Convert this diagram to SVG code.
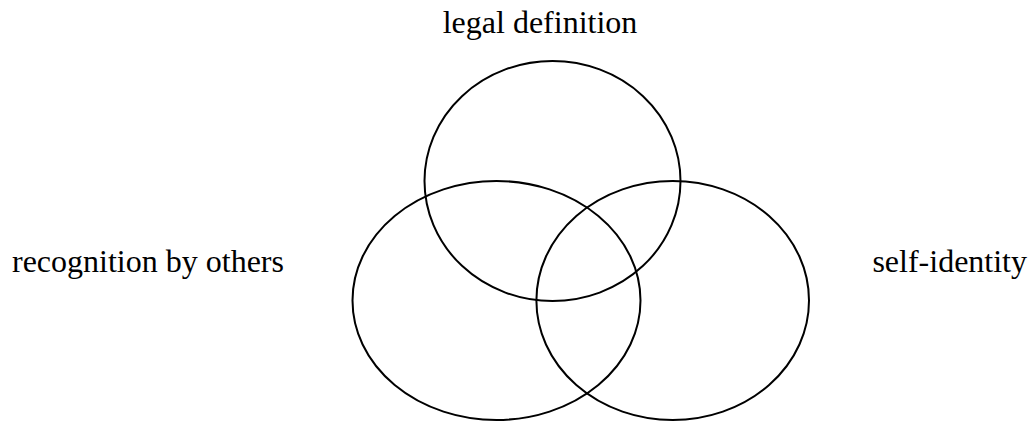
<svg xmlns="http://www.w3.org/2000/svg" width="1035" height="421" viewBox="0 0 1035 421">
<style>
.c{fill:none;stroke:#000;stroke-width:2}
.t{font-family:"Liberation Serif","Times New Roman",serif;font-size:32px;fill:#000}
</style>
<rect width="1035" height="421" fill="#fff"/>
<g id="legal">
<ellipse class="c" cx="552.5" cy="181" rx="128" ry="120"/>
<text class="t" x="540" y="33" text-anchor="middle">legal definition</text>
</g>
<g id="recognition">
<ellipse class="c" cx="496.5" cy="300.5" rx="144" ry="119.5"/>
<text class="t" x="12" y="272">recognition by others</text>
</g>
<g id="self">
<ellipse class="c" cx="672.7" cy="300.5" rx="136.3" ry="119.5"/>
<text class="t" x="1027" y="272" text-anchor="end">self-identity</text>
</g>
<g id="connectors"></g>
</svg>
